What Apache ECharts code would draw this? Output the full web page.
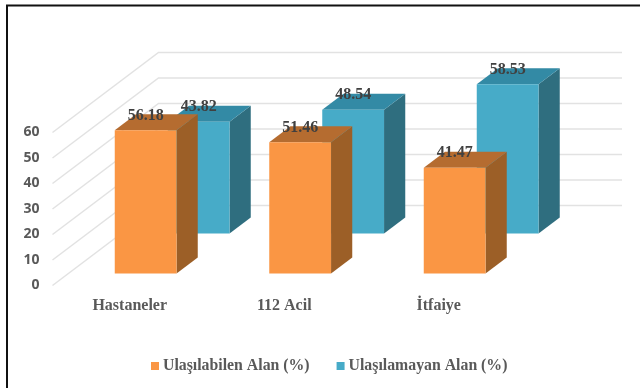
<!DOCTYPE html>
<html>
<head>
<meta charset="utf-8">
<style>html,body{margin:0;padding:0;background:#fff}#c{width:640px;height:388px}</style>
<script src="https://cdn.jsdelivr.net/npm/echarts@6/dist/echarts.min.js"></script>
</head>
<body>
<div id="c"></div>
<script>
const categories = ['Hastaneler', '112 Acil', 'İtfaiye'];
const reachable = [56.18, 51.46, 41.47];
const unreachable = [43.82, 48.54, 58.53];
const valueTicks = [0, 10, 20, 30, 40, 50, 60];
const seriesNames = ['Ulaşılabilen Alan (%)', 'Ulaşılamayan Alan (%)'];

// Oblique projection: the full floor depth shifts a point right and up by this much.
const FLOOR_DX = 106, FLOOR_DY = -80;
const BAR_DEPTH = 0.2, BAR_WIDTH = 0.4;

const chart = echarts.init(document.getElementById('c'), null, { renderer: 'canvas' });

function wallLine(params, api) {
  const p = api.coord([0, api.value(0)]);
  const band = api.size([1, 0])[0];
  const left = p[0] - band / 2;
  const right = left + band * categories.length;
  return {
    type: 'polyline',
    shape: { points: [[left, p[1]], [left + FLOOR_DX, p[1] + FLOOR_DY], [right + FLOOR_DX, p[1] + FLOOR_DY]] },
    style: { fill: null, stroke: '#e2e2e2', lineWidth: 1.5 }
  };
}

function prismRenderer(depth, colors) {
  return function (params, api) {
    const cat = api.value(0), val = api.value(1);
    const band = api.size([1, 0])[0];
    const w = band * BAR_WIDTH;
    const top = api.coord([cat, val]), base = api.coord([cat, 0]);
    const ox = depth * FLOOR_DX, oy = depth * FLOOR_DY;
    const dx = BAR_DEPTH * FLOOR_DX, dy = BAR_DEPTH * FLOOR_DY;
    const x0 = top[0] - w / 2 + ox, x1 = x0 + w;
    const yt = top[1] + oy, yb = base[1] + oy;
    return {
      type: 'group',
      children: [
        { type: 'polygon', shape: { points: [[x1, yt], [x1 + dx, yt + dy], [x1 + dx, yb + dy], [x1, yb]] },
          style: { fill: colors.side } },
        { type: 'polygon', shape: { points: [[x0, yt], [x0 + dx, yt + dy], [x1 + dx, yt + dy], [x1, yt]] },
          style: { fill: colors.top } },
        { type: 'rect', shape: { x: x0, y: yt, width: w, height: yb - yt }, style: { fill: colors.face } },
        { type: 'text', x: x0 + w / 2, y: yt - 14.5, z2: 10,
          style: { text: val.toFixed(2), align: 'center', verticalAlign: 'middle',
                   font: 'bold 16px "Liberation Serif"', fill: '#404040' } }
      ]
    };
  };
}

const orange = { face: '#fa9644', side: '#9c5f27', top: '#b56c30' };
const teal = { face: '#47abc8', side: '#2f6e7f', top: '#338aa5' };

chart.setOption({
  animation: false,
  backgroundColor: '#fff',
  graphic: [
    { type: 'polyline', silent: true, z: 100,
      shape: { points: [[7, 388], [7, 5.5], [640, 5.5]] },
      style: { fill: null, stroke: '#111', lineWidth: 2 } }
  ],
  grid: { left: 52.5, width: 463.5, top: 132.5, height: 153 },
  xAxis: {
    type: 'category', data: categories, axisLine: { show: false }, axisTick: { show: false },
    axisLabel: { margin: 12, color: '#595959', fontFamily: 'Liberation Serif', fontWeight: 'bold', fontSize: 16 }
  },
  yAxis: {
    type: 'value', min: 0, max: 60, interval: 10, splitLine: { show: false }, axisLine: { show: false }, axisTick: { show: false },
    axisLabel: { margin: 13, color: '#595959', fontFamily: 'Open Sans', fontWeight: 'bold', fontSize: 14, padding: [6, 0, 0, 0] }
  },
  legend: {
    show: true, top: 353, left: 146, itemWidth: 8, itemHeight: 8, itemGap: 27, icon: 'rect',
    data: seriesNames,
    textStyle: { color: '#595959', fontFamily: 'Liberation Serif', fontWeight: 'bold', fontSize: 15.8, padding: [2, 0, 0, -1] }
  },
  series: [
    { type: 'custom', name: 'wall', z: 1, renderItem: wallLine, encode: { y: 0 }, data: valueTicks.map(v => [v]), silent: true },
    { type: 'custom', name: seriesNames[0], z: 3, itemStyle: { color: orange.face }, renderItem: prismRenderer(0.15, orange),
      encode: { x: 0, y: 1 }, data: reachable.map((v, i) => [i, v]) },
    { type: 'custom', name: seriesNames[1], z: 2, itemStyle: { color: teal.face }, renderItem: prismRenderer(0.65, teal),
      encode: { x: 0, y: 1 }, data: unreachable.map((v, i) => [i, v]) }
  ]
});
</script>
</body>
</html>
